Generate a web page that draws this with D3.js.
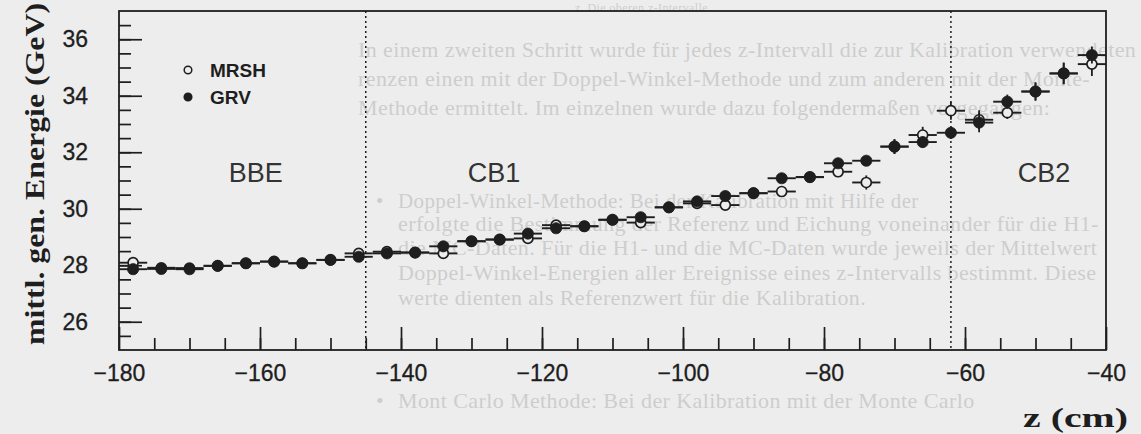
<!DOCTYPE html>
<html>
<head>
<meta charset="utf-8">
<script src="https://cdn.jsdelivr.net/npm/d3@7"></script>
<style>
  body { margin: 0; background: #ededed; }
  svg { display: block; }
</style>
</head>
<body>
<div id="chart"></div>
<script>
// datos
const zBins = [-178, -174, -170, -166, -162, -158, -154, -150, -146, -142, -138, -134,
               -130, -126, -122, -118, -114, -110, -106, -102, -98, -94, -90, -86,
               -82, -78, -74, -70, -66, -62, -58, -54, -50, -46, -42]
const binHalfWidth = 2

const grv = [27.86, 27.87, 27.86, 27.98, 28.07, 28.13, 28.07, 28.19, 28.30, 28.42, 28.45, 28.67,
             28.85, 28.91, 29.12, 29.31, 29.38, 29.61, 29.70, 30.05, 30.26, 30.45, 30.55, 31.08,
             31.12, 31.61, 31.70, 32.20, 32.36, 32.69, 33.05, 33.79, 34.15, 34.79, 35.44]
const grvErr = [0.06, 0.06, 0.06, 0.06, 0.06, 0.07, 0.07, 0.07, 0.07, 0.08, 0.08, 0.08,
                0.08, 0.09, 0.09, 0.09, 0.10, 0.10, 0.10, 0.11, 0.11, 0.12, 0.12, 0.14,
                0.15, 0.16, 0.18, 0.26, 0.20, 0.22, 0.34, 0.25, 0.32, 0.38, 0.30]

const mrsh = [28.09, 27.91, 27.90, 27.98, 28.07, 28.13, 28.07, 28.19, 28.42, 28.48, 28.45, 28.42,
              28.85, 28.91, 28.95, 29.42, 29.38, 29.61, 29.51, 30.05, 30.19, 30.13, 30.55, 30.61,
              31.12, 31.31, 30.93, 32.20, 32.61, 33.47, 33.15, 33.40, 34.15, 34.79, 35.12]
const mrshErr = [0.06, 0.06, 0.06, 0.06, 0.06, 0.07, 0.07, 0.07, 0.07, 0.08, 0.08, 0.08,
                 0.08, 0.09, 0.09, 0.09, 0.10, 0.10, 0.10, 0.11, 0.11, 0.12, 0.12, 0.18,
                 0.15, 0.16, 0.25, 0.26, 0.29, 0.32, 0.34, 0.22, 0.32, 0.38, 0.42]

const xTickLabels = [-180, -160, -140, -120, -100, -80, -60, -40]
const yTickLabels = [26, 28, 30, 32, 34, 36]
const boundaries = [-145, -62]
const regionNames = ["BBE", "CB1", "CB2"]
const legendNames = ["MRSH", "GRV"]

const width = 1141
const height = 434
const margin = { top: 11, right: 35, left: 119, bottom: 84 }
const innerW = width - margin.left - margin.right
const innerH = height - margin.top - margin.bottom
const ink = "#1e1e1e"
const paper = "#ededed"

// svg
const svg = d3.select("div#chart").append("svg").attr("width", width).attr("height", height)
svg.append("rect").attr("width", width).attr("height", height).attr("fill", paper)

// texto de fondo (la página escaneada se transparenta)
const ghost = [
    [575, 12, 12, "z. Die oberen z-Intervalle"],
    [358, 57, 22, "In einem zweiten Schritt wurde für jedes z-Intervall die zur Kalibration verwendeten"],
    [358, 86, 22, "renzen einen mit der Doppel-Winkel-Methode und zum anderen mit der Monte-"],
    [358, 115, 22, "Methode ermittelt. Im einzelnen wurde dazu folgendermaßen vorgegangen:"],
    [376, 208, 21, "•"],
    [398, 208, 21, "Doppel-Winkel-Methode: Bei der Kalibration mit Hilfe der"],
    [398, 231, 22, "erfolgte die Bestimmung der Referenz und Eichung voneinander für die H1-"],
    [398, 255, 22, "die MC-Daten. Für die H1- und die MC-Daten wurde jeweils der Mittelwert"],
    [398, 280, 22, "Doppel-Winkel-Energien aller Ereignisse eines z-Intervalls bestimmt. Diese"],
    [398, 305, 22, "werte dienten als Referenzwert für die Kalibration."],
    [376, 408, 22, "•"],
    [398, 408, 22, "Mont Carlo Methode: Bei der Kalibration mit der Monte Carlo"]
]
svg.append("g").attr("class", "ghost")
    .selectAll("text").data(ghost).join("text")
    .attr("x", d => d[0]).attr("y", d => d[1])
    .attr("font-family", "Liberation Serif, serif")
    .attr("font-size", d => d[2])
    .attr("letter-spacing", 0.4)
    .attr("fill", "#cdcdcd")
    .text(d => d[3])

// grupos
const elementGroup = svg.append("g").attr("transform", `translate(${margin.left}, ${margin.top})`)
const axisGroup = svg.append("g").attr("class", "axisGroup")
const xAxisGroup = axisGroup.append("g").attr("transform", `translate(${margin.left}, ${height - margin.bottom})`)
const yAxisGroup = axisGroup.append("g").attr("transform", `translate(${margin.left}, ${margin.top})`)

// escalas
const x = d3.scaleLinear().domain([-180, -40]).range([0, innerW])
const y = d3.scaleLinear().domain([25, 37]).range([innerH, 0])

// ejes (ticks hacia dentro)
const fmt = d => String(d).replace("-", "\u2212")
const xAxis = d3.axisBottom(x).tickValues(xTickLabels).tickSize(-23).tickPadding(15).tickFormat(fmt)
const xAxisMinor = d3.axisBottom(x).tickValues(d3.range(-175, -40, 5)).tickSize(-12).tickFormat("")
const yAxis = d3.axisLeft(y).tickValues(yTickLabels).tickSize(-23).tickPadding(31).tickFormat(fmt)
const yAxisMinor = d3.axisLeft(y).tickValues(d3.range(25.5, 37, 0.5)).tickSize(-12).tickFormat("")

xAxisGroup.append("g").call(xAxisMinor)
xAxisGroup.append("g").call(xAxis)
yAxisGroup.append("g").call(yAxisMinor)
yAxisGroup.append("g").call(yAxis)

axisGroup.selectAll(".domain").remove()
axisGroup.selectAll(".tick line").attr("stroke", ink).attr("stroke-width", 1.7)
axisGroup.selectAll(".tick text")
    .attr("fill", ink)
    .attr("font-family", "Liberation Sans, Arial, sans-serif")
    .attr("font-size", 23)
    .attr("stroke", ink).attr("stroke-width", 0.3)

// marco
elementGroup.append("rect")
    .attr("width", innerW).attr("height", innerH)
    .attr("fill", "none").attr("stroke", ink).attr("stroke-width", 1.8)

// líneas de separación entre detectores
elementGroup.selectAll("line.boundary").data(boundaries).join("line")
    .attr("class", "boundary")
    .attr("x1", d => x(d)).attr("x2", d => x(d))
    .attr("y1", 0).attr("y2", innerH)
    .attr("stroke", ink).attr("stroke-width", 1.5)
    .attr("stroke-dasharray", "2,3")

// nombres de las regiones
const regionZ = [-160.6, -126.8, -48.8]
elementGroup.selectAll("text.region").data(regionNames).join("text")
    .attr("class", "region")
    .attr("x", (d, i) => x(regionZ[i]))
    .attr("y", y(30.95))
    .attr("text-anchor", "middle")
    .attr("font-family", "Liberation Sans, Arial, sans-serif")
    .attr("font-weight", 300)
    .attr("font-size", 27)
    .attr("fill", "#333")
    .text(d => d)

// puntos con barras de error
function drawSeries(values, errs, filled, cls) {
    const data = zBins.map((z, i) => ({ z: z, v: values[i], e: errs[i] }))
    const g = elementGroup.append("g").attr("class", cls)
    g.selectAll("line.h").data(data).join("line")
        .attr("class", "h")
        .attr("x1", d => x(d.z - binHalfWidth)).attr("x2", d => x(d.z + binHalfWidth))
        .attr("y1", d => y(d.v)).attr("y2", d => y(d.v))
        .attr("stroke", ink).attr("stroke-width", 1.9)
    g.selectAll("line.v").data(data).join("line")
        .attr("class", "v")
        .attr("x1", d => x(d.z)).attr("x2", d => x(d.z))
        .attr("y1", d => y(d.v - d.e)).attr("y2", d => y(d.v + d.e))
        .attr("stroke", ink).attr("stroke-width", 1.8)
    g.selectAll("circle").data(data).join("circle")
        .attr("cx", d => x(d.z)).attr("cy", d => y(d.v))
        .attr("r", filled ? 5.6 : 5)
        .attr("fill", filled ? ink : paper)
        .attr("stroke", ink).attr("stroke-width", filled ? 0.8 : 1.7)
}
drawSeries(mrsh, mrshErr, false, "mrsh")
drawSeries(grv, grvErr, true, "grv")

// leyenda
const legend = svg.append("g").attr("transform", "translate(188, 70)")
legend.selectAll("circle").data(legendNames).join("circle")
    .attr("cx", 0).attr("cy", (d, i) => i * 27)
    .attr("r", 3.8)
    .attr("fill", (d, i) => i === 0 ? paper : ink)
    .attr("stroke", ink).attr("stroke-width", 1.5)
legend.selectAll("text").data(legendNames).join("text")
    .attr("x", 22).attr("y", (d, i) => i * 27)
    .attr("dy", "0.36em")
    .attr("font-family", "Liberation Sans, Arial, sans-serif")
    .attr("font-weight", "bold")
    .attr("font-size", 19)
    .attr("fill", ink)
    .text(d => d)

// títulos de los ejes
svg.append("text")
    .attr("transform", "translate(44, 174) rotate(-90)")
    .attr("text-anchor", "middle")
    .attr("font-family", "Liberation Serif, serif")
    .attr("font-weight", "bold")
    .attr("font-size", 27)
    .attr("textLength", 342)
    .attr("lengthAdjust", "spacingAndGlyphs")
    .attr("fill", ink)
    .text("mittl. gen. Energie (GeV)")

svg.append("text")
    .attr("x", 1128).attr("y", 427)
    .attr("text-anchor", "end")
    .attr("font-family", "Liberation Serif, serif")
    .attr("font-weight", "bold")
    .attr("font-size", 27)
    .attr("textLength", 105)
    .attr("lengthAdjust", "spacingAndGlyphs")
    .attr("fill", ink)
    .text("z (cm)")
</script>
</body>
</html>
